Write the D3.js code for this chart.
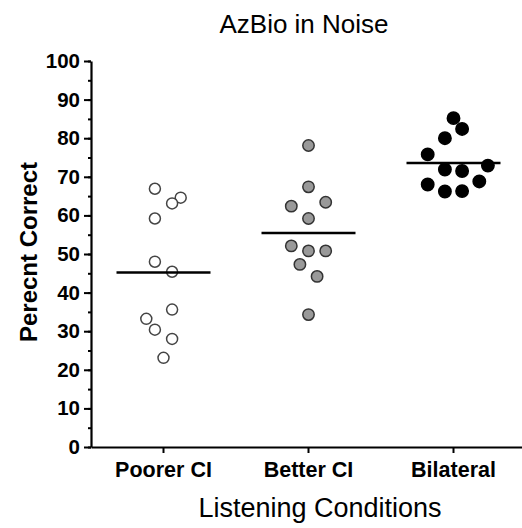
<!DOCTYPE html>
<html>
<head>
<meta charset="utf-8">
<script src="https://cdn.jsdelivr.net/npm/d3@7"></script>
<style>
  body { margin: 0; background: #fff; }
  svg { display: block; font-family: "Liberation Sans", Arial, sans-serif; }
</style>
</head>
<body>
<div id="chart"></div>
<script>
"use strict";

// group names on the x axis
const categories = ["Poorer CI", "Better CI", "Bilateral"];

// percent correct per listener
const poorerValues = [66.9, 64.6, 63.1, 59.2, 48.0, 45.4, 35.6, 33.2, 30.4, 28.0, 23.1];
const betterValues = [78.1, 67.4, 62.4, 63.4, 59.2, 52.1, 50.8, 50.8, 47.3, 44.2, 34.3];
const bilateralValues = [85.2, 82.4, 80.0, 75.8, 72.9, 71.9, 71.5, 68.0, 68.8, 66.2, 66.3];

// horizontal scatter slot of each point (in slot units)
const poorerJitter = [-1, 2, 1, -1, -1, 1, 1, -2, -1, 1, 0];
const betterJitter = [0, 0, -2, 2, 0, -2, 0, 2, -1, 1, 0];
const bilateralJitter = [0, 1, -1, -3, 4, -1, 1, -3, 3, -1, 1];

const yTicks = [0, 10, 20, 30, 40, 50, 60, 70, 80, 90, 100];
const yMinorTicks = d3.range(0, 101, 5);

const groups = [
    { name: categories[0], values: poorerValues, jitter: poorerJitter, fill: "#ffffff", stroke: "#444", r: 5.5 },
    { name: categories[1], values: betterValues, jitter: betterJitter, fill: "#999999", stroke: "#333", r: 5.7 },
    { name: categories[2], values: bilateralValues, jitter: bilateralJitter, fill: "#000000", stroke: "#000", r: 6.2 },
];

const cont = { width: 522, height: 528 };

const svg = d3.select("#chart").append("svg")
    .attr("width", cont.width)
    .attr("height", cont.height);

const x = d3.scaleBand().domain(categories).range([91, 526]).padding(0);
const y = d3.scaleLinear().domain([0, 100]).range([447, 61]);
const jit = d3.scaleLinear().domain([-1, 1]).range([-8.6, 8.6]);

// minor ticks on y
svg.append("g")
    .attr("transform", "translate(91,0)")
    .call(d3.axisLeft(y).tickValues(yMinorTicks).tickSize(3).tickFormat(""))
    .call(g => g.selectAll("line").attr("stroke", "#000").attr("stroke-width", 2))
    .call(g => g.select(".domain").remove());

// y axis
svg.append("g")
    .attr("transform", "translate(91,0)")
    .call(d3.axisLeft(y).tickValues(yTicks).tickSize(7).tickSizeOuter(0).tickPadding(4))
    .call(g => g.select(".domain").attr("stroke", "#000").attr("stroke-width", 2.2))
    .call(g => g.selectAll("line").attr("stroke", "#000").attr("stroke-width", 2))
    .call(g => g.selectAll("text")
        .attr("fill", "#000")
        .style("font-size", "20.5px")
        .style("font-weight", "bold"));

// x axis
svg.append("g")
    .attr("transform", "translate(0,447)")
    .call(d3.axisBottom(x).tickSize(6).tickSizeOuter(0))
    .call(g => g.select(".domain").attr("stroke", "#000").attr("stroke-width", 2.2))
    .call(g => g.selectAll("line").attr("stroke", "#000").attr("stroke-width", 2))
    .call(g => g.selectAll("text")
        .attr("fill", "#000")
        .attr("y", 30)
        .attr("dy", 0)
        .style("font-size", "21.5px")
        .style("font-weight", "bold"));

// points
groups.forEach(gr => {
    const cx = x(gr.name) + x.bandwidth() / 2;
    svg.append("g").selectAll("circle")
        .data(gr.values)
        .enter()
        .append("circle")
        .attr("cx", (d, i) => cx + jit(gr.jitter[i]))
        .attr("cy", d => y(d))
        .attr("r", gr.r)
        .attr("fill", gr.fill)
        .attr("stroke", gr.stroke)
        .attr("stroke-width", 1.5);
});

// mean lines
svg.append("g").selectAll("line")
    .data(groups)
    .enter()
    .append("line")
    .attr("x1", d => x(d.name) + x.bandwidth() / 2 - 47)
    .attr("x2", d => x(d.name) + x.bandwidth() / 2 + 47)
    .attr("y1", d => y(d3.mean(d.values)))
    .attr("y2", d => y(d3.mean(d.values)))
    .attr("stroke", "#000")
    .attr("stroke-width", 2.5);

// labels
svg.append("text")
    .attr("x", 304)
    .attr("y", 33)
    .attr("text-anchor", "middle")
    .style("font-size", "26px")
    .text("AzBio in Noise");

svg.append("text")
    .attr("transform", "translate(37,252) rotate(-90)")
    .attr("text-anchor", "middle")
    .style("font-size", "24px")
    .style("font-weight", "bold")
    .text("Perecnt Correct");

svg.append("text")
    .attr("x", 320)
    .attr("y", 517)
    .attr("text-anchor", "middle")
    .style("font-size", "27px")
    .text("Listening Conditions");
</script>
</body>
</html>
